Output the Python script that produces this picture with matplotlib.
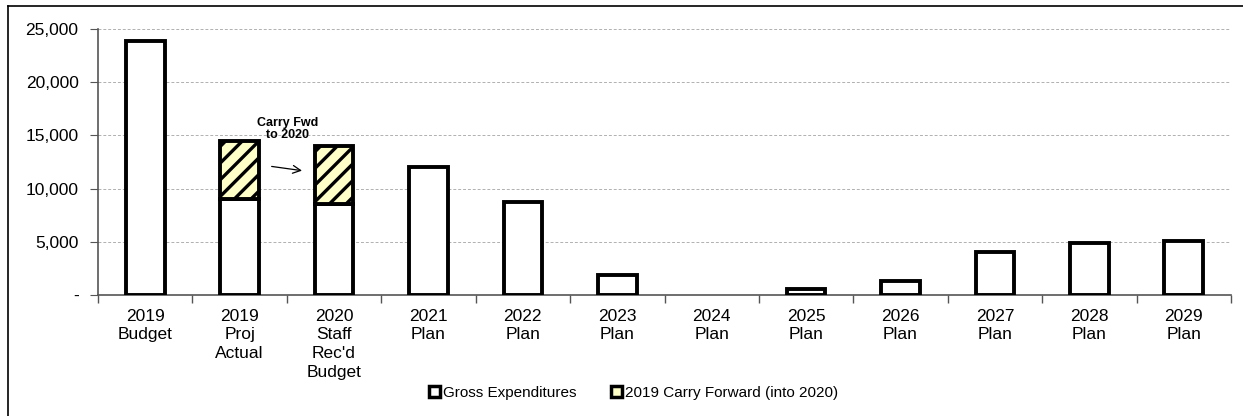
import matplotlib.pyplot as plt
from matplotlib.ticker import FuncFormatter, FixedLocator
from matplotlib.patches import Patch
from matplotlib.lines import Line2D

plt.rcParams["font.family"] = ["Liberation Sans", "DejaVu Sans"]
plt.rcParams["hatch.linewidth"] = 2.4

categories = [
    "2019\nBudget", "2019\nProj\nActual", "2020\nStaff\nRec'd\nBudget",
    "2021\nPlan", "2022\nPlan", "2023\nPlan", "2024\nPlan", "2025\nPlan",
    "2026\nPlan", "2027\nPlan", "2028\nPlan", "2029\nPlan",
]
gross = [23900, 9000, 8550, 12050, 8700, 1900, 0, 550, 1300, 4050, 4900, 5100]
carry = [0, 5500, 5450, 0, 0, 0, 0, 0, 0, 0, 0, 0]

fig = plt.figure(figsize=(12.43, 4.16), dpi=100)
ax = fig.add_axes([98 / 1243, 1 - 295 / 416, 1133 / 1243, 266 / 416])

x = list(range(len(categories)))
w = 0.41
# skip empty bars so no outline is drawn on the axis
gx = [i for i in x if gross[i] > 0]
ax.bar(gx, [gross[i] for i in gx], width=w, color="white", edgecolor="black",
       linewidth=2.8, zorder=3)
cx = [i for i in x if carry[i] > 0]
ax.bar(cx, [carry[i] for i in cx], bottom=[gross[i] for i in cx],
       width=w, color="#FFFFC8", edgecolor="black", hatch="//", linewidth=2.8, zorder=3)

ax.set_xlim(-0.5, len(categories) - 0.5)
ax.set_ylim(0, 25000)
ax.set_yticks(range(0, 25001, 5000))
ax.yaxis.set_major_formatter(FuncFormatter(lambda v, p: "-" if v == 0 else f"{v:,.0f}"))
ax.grid(axis="y", color="#b0b0b0", linestyle=(0, (3, 2)), linewidth=0.7, zorder=0)

ax.set_xticks(x)
ax.set_xticklabels(categories, fontsize=12.5, linespacing=1.3, va="top")
ax.tick_params(axis="x", which="major", length=0, pad=10)
ax.xaxis.set_minor_locator(FixedLocator([i - 0.5 for i in range(len(categories) + 1)]))
ax.tick_params(axis="x", which="minor", length=6, width=1, color="#555555", direction="out")
ax.tick_params(axis="y", labelsize=12.5, length=6, color="#555555", direction="out", pad=8)

for s in ["top", "right"]:
    ax.spines[s].set_visible(False)
for s in ["left", "bottom"]:
    ax.spines[s].set_color("#555555")
    ax.spines[s].set_linewidth(1.2)

ax.text(1.51, 15600, "Carry Fwd\nto 2020", ha="center", va="center", fontsize=9,
        fontweight="bold", linespacing=1.0)
ax.annotate("", xy=(1.69, 11650), xytext=(1.31, 12120),
            arrowprops=dict(arrowstyle="->", color="black", lw=0.9, mutation_scale=14))

handles = [
    Patch(facecolor="white", edgecolor="black", linewidth=2.5),
    Patch(facecolor="#FFFFC8", edgecolor="black", linewidth=2.5),
]
fig.legend(handles, ["Gross Expenditures", "2019 Carry Forward (into 2020)"],
           loc="center", bbox_to_anchor=(0.5 + 12 / 1243, 1 - 393 / 416), ncol=2,
           frameon=False, fontsize=11, handlelength=0.7, handleheight=0.7,
           handletextpad=0.2, columnspacing=2.3)

fig.add_artist(Line2D([8 / 1243, 8 / 1243], [0, 1 - 6 / 416], transform=fig.transFigure,
                      color="black", linewidth=1.2))
fig.add_artist(Line2D([8 / 1243, 1], [1 - 6 / 416, 1 - 6 / 416], transform=fig.transFigure,
                      color="black", linewidth=1.2))

fig.savefig("out.png", dpi=100)
